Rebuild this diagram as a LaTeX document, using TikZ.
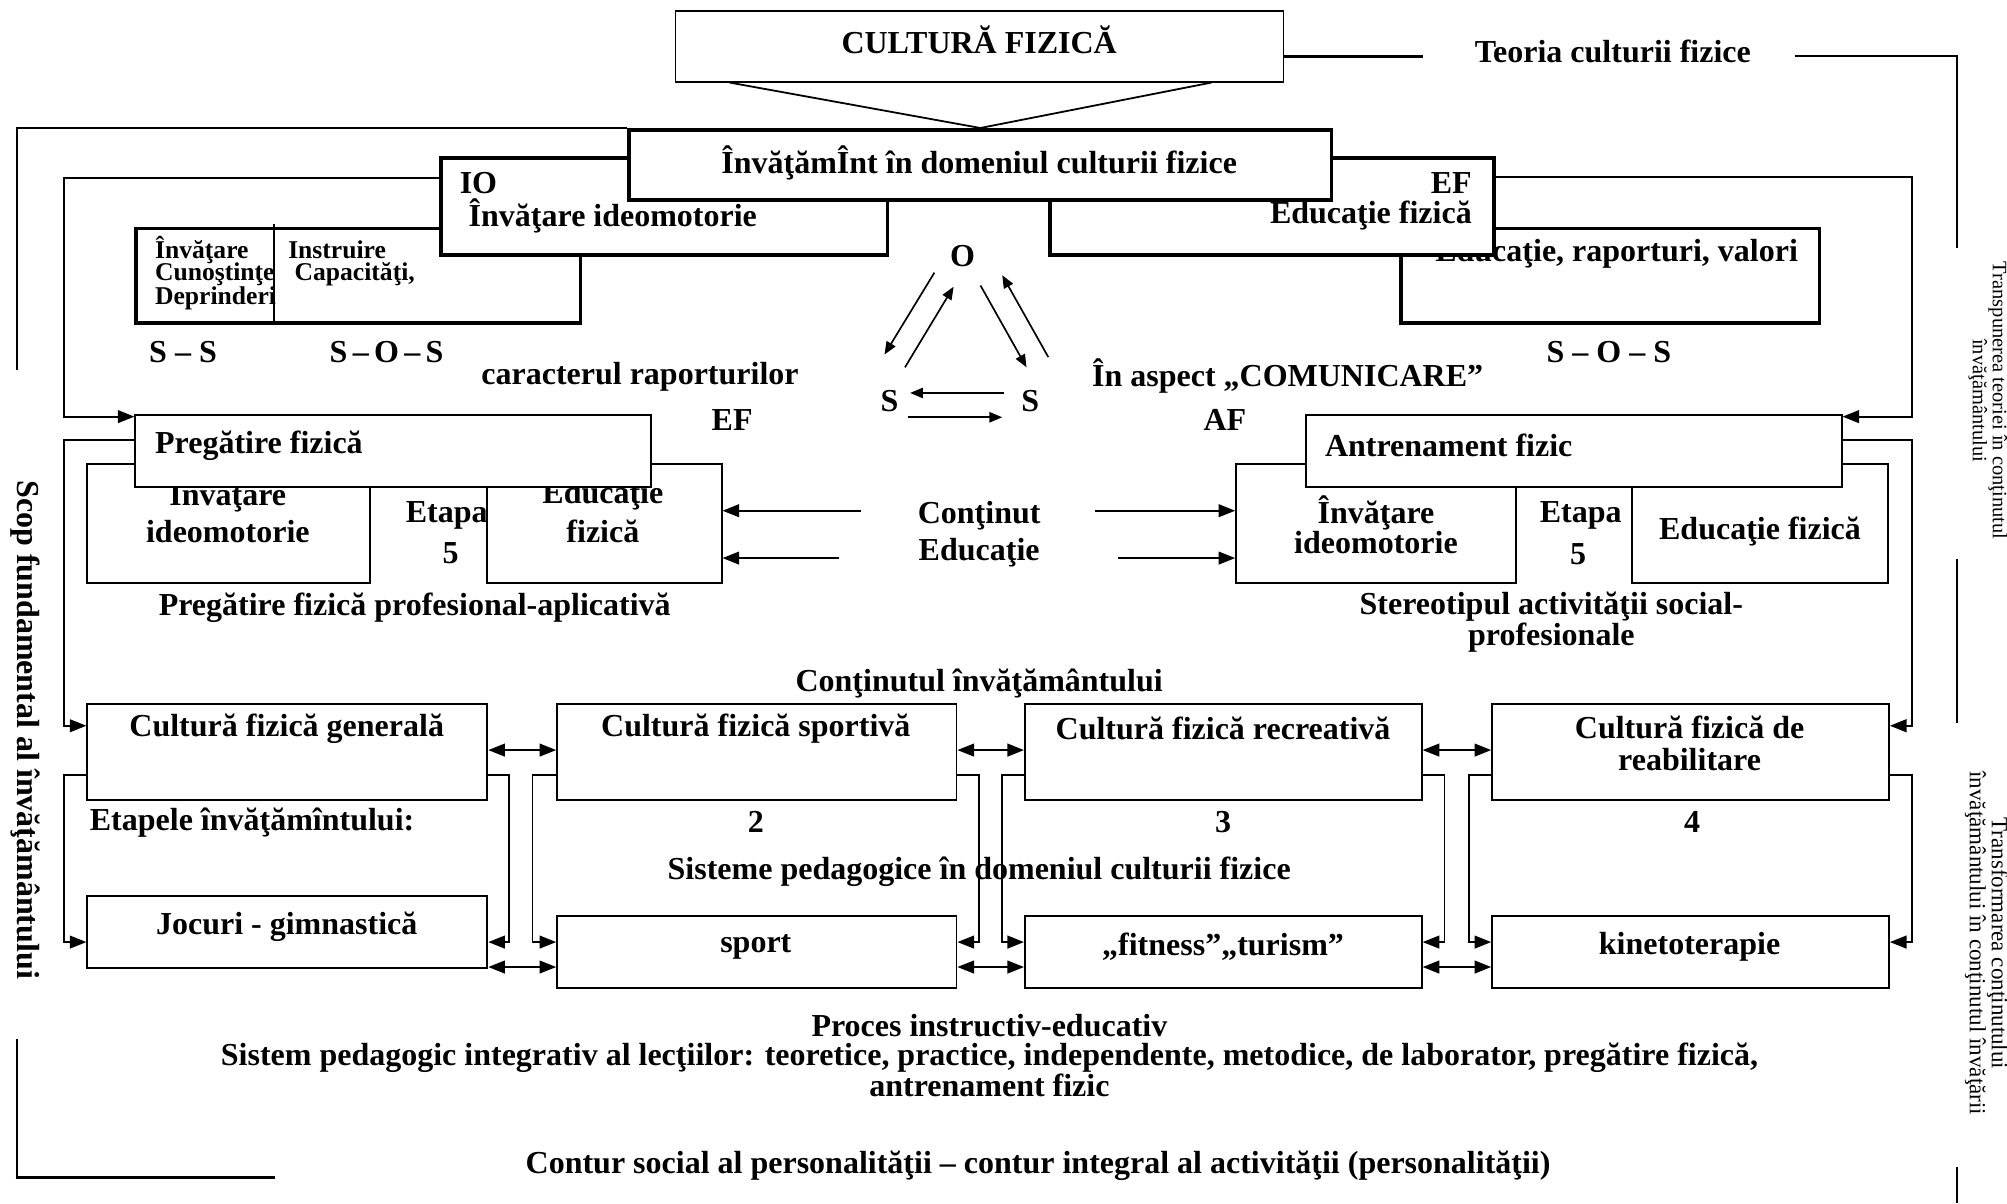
\documentclass[tikz,border=0pt]{standalone}
\usepackage{fontspec}
\setmainfont{Liberation Serif}
\usetikzlibrary{arrows.meta,calc}
\newcommand\mainf{\fontsize{25}{26}\selectfont\bfseries}
\newcommand\smallf{\fontsize{20}{19}\selectfont\bfseries}
\newcommand\sidef{\fontsize{16}{13}\selectfont}
\newcommand\sideff{\fontsize{18}{14}\selectfont}
\begin{document}
\begin{tikzpicture}[x=1pt,y=-1pt,
  every node/.style={inner sep=0pt, align=center, font=\mainf},
  box/.style={draw, line width=1.5pt, fill=white, anchor=north west},
  tbox/.style={box, line width=2.8pt},
  ln/.style={line width=1.4pt},
  >={Triangle[length=13pt,width=10pt]},
  arr/.style={ln, ->},
  darr/.style={ln, <->},
  tarr/.style={line width=1.3pt, -{Triangle[length=10pt,width=8pt]}},
]
\useasboundingbox (0,0) rectangle (1568,940);

% ---------- upper block ----------
\node[box, minimum width=475pt, minimum height=55pt] (cf) at (527,8) {};
\node (cft) at (765,31) {CULTURĂ FIZICĂ};
\node (teo) at (1260,40) {Teoria culturii fizice};
\coordinate (teoL) at (1112,44);
\coordinate (teoR) at (1402,44);
\coordinate (trA) at (1529,194);

% small box: knowledge / skills
\node[tbox, minimum width=347pt, minimum height=74pt] (sm) at (105,177) {};
\draw[line width=2pt] ($(sm.north west)+(109,-2)$) -- ($(sm.south west)+(109,-2)$);
\node[anchor=west, font=\smallf] (sm1) at (121,195) {Învăţare};
\node[anchor=west, font=\smallf] (sm2) at (121,214) {Cunoştinţe};
\node[anchor=west, font=\smallf] (sm3) at (121,233) {Deprinderi};
\node[anchor=west, font=\smallf] (sm4) at (225,195) {Instruire};
\node[anchor=west, font=\smallf] (sm5) at (230,214) {Capacităţi,};

% IO box
\node[tbox, minimum width=349pt, minimum height=76pt] (io) at (343,122) {};
\node[anchor=west] (iot) at (359,143) {IO};
\node[anchor=west] (iot2) at (366,169) {Învăţare ideomotorie};

% education / values box and EF box
\node[tbox, minimum width=327pt, minimum height=74pt] (erv) at (1093,177) {};
\node (ervt) at (1263,198) {Educaţie, raporturi, valori};
\node[tbox, minimum width=347pt, minimum height=76pt] (ef) at (819,122) {};
\node[anchor=east] (eft) at (1150,143) {EF};
\node[anchor=east] (eft2) at (1150,168) {Educaţie fizică};

% central teaching box
\node[tbox, minimum width=549pt, minimum height=55pt] (inv) at (490,100) {};
\node (invt) at (765,127) {ÎnvăţămÎnt în domeniul culturii fizice};

% relation labels
\node (ss1) at (143,275) {S – S};
\node (sos1) at (302,275) {S\,–\,O\,–\,S};
\node (sos2) at (1257,275) {S – O – S};
\node (car) at (500,294) {caracterul raporturilor};
\node (ef2) at (572,328) {EF};
\node (com) at (1006,294) {În aspect „COMUNICARE”};
\node (af2) at (957,328) {AF};

% subject-object triangle
\node (O) at (752,200) {O};
\node (S1) at (695,313) {S};
\node (S2) at (805,313) {S};
\coordinate (a1s) at (730,213); \coordinate (a1e) at (691,277);
\coordinate (a2s) at (707,287); \coordinate (a2e) at (745,224);
\coordinate (a3s) at (766,223); \coordinate (a3e) at (802,287);
\coordinate (a4s) at (819,279); \coordinate (a4e) at (783,215);
\coordinate (a5s) at (784,307); \coordinate (a5e) at (711,307);
\coordinate (a6s) at (709,326); \coordinate (a6e) at (783,326);

% ---------- middle block ----------
\node[box, minimum width=220.5pt, minimum height=93pt] (lii) at (67.5,362) {};
\node[box, minimum width=183pt, minimum height=93pt] (lef) at (380,362) {};
\node (lii1) at (178,387) {Învăţare};
\node (lii2) at (178,415) {ideomotorie};
\node (lef1) at (471,387) {Educaţie};
\node (lef2) at (471,415) {fizică};
\node[box, minimum width=403pt, minimum height=56.5pt] (pf) at (105,323.5) {};
\node[anchor=west] (pft) at (121,348) {Pregătire fizică};
\node (et1) at (349,403) {Etapa};
\node (et2) at (352,432) {5};
\node (pfpa) at (324,475) {Pregătire fizică profesional-aplicativă};

\node (con1) at (765,403) {Conţinut};
\node (con2) at (765,432) {Educaţie};
\coordinate (cl1) at (673,399);
\coordinate (cl2) at (655.5,436);
\coordinate (cr1) at (855.5,399);
\coordinate (cr2) at (873.5,436);

\node[box, minimum width=218.5pt, minimum height=93pt] (rii) at (965,362) {};
\node[box, minimum width=200pt, minimum height=93pt] (ref) at (1274,362) {};
\node (rii1) at (1075,401) {Învăţare};
\node (rii2) at (1075,424) {ideomotorie};
\node (ret) at (1375,415) {Educaţie fizică};
\node (rt1) at (1235,403) {Etapa};
\node (rt2) at (1233,433) {5};
\node[box, minimum width=418.5pt, minimum height=56.5pt] (af) at (1019.5,323.5) {};
\node[anchor=west] (aft) at (1035,348) {Antrenament fizic};
\node[font=\fontsize{25}{24}\selectfont\bfseries] (stp) at (1212,486) {Stereotipul activităţii social-\\profesionale};

\node (cont) at (765,534) {Conţinutul învăţământului};

% ---------- lower block ----------
\node[box, minimum width=312.5pt, minimum height=75pt] (cfg) at (67.5,549) {};
\node[box, minimum width=312pt, minimum height=75pt] (cfs) at (434.5,549) {};
\node[box, minimum width=310pt, minimum height=75pt] (cfc) at (800,549) {};
\node[box, minimum width=310pt, minimum height=75pt] (cfr) at (1165,549) {};
\node (cfgt) at (224,569) {Cultură fizică generală};
\node (cfst) at (590.5,569) {Cultură fizică sportivă};
\node (cfct) at (955.5,569) {Cultură fizică recreativă};
\node[font=\fontsize{25}{25}\selectfont\bfseries] (cfrt) at (1320,581) {Cultură fizică de\\reabilitare};

\node[anchor=west] (etp) at (70,643) {Etapele învăţămîntului:};
\node (n2) at (590.5,642) {2};
\node (n3) at (955.5,642) {3};
\node (n4) at (1322,642) {4};
\node (sis) at (765,681) {Sisteme pedagogice în domeniul culturii fizice};

\node[box, minimum width=312.5pt, minimum height=56.5pt] (joc) at (67.5,699) {};
\node[box, minimum width=312pt, minimum height=56pt] (sp) at (434.5,715) {};
\node[box, minimum width=310pt, minimum height=56pt] (fit) at (800,715) {};
\node[box, minimum width=310pt, minimum height=56pt] (kin) at (1165,715) {};
\node (joct) at (224,724) {Jocuri - gimnastică};
\node (spt) at (590.5,740) {sport};
\node (fitt) at (955.5,740) {„fitness”„turism”};
\node (kint) at (1320,740) {kinetoterapie};

\node (pr1) at (773,801) {Proces instructiv-educativ};
\node (pr2) at (773,826) {Sistem pedagogic integrativ al lecţiilor: teoretice, practice, independente, metodice, de laborator, pregătire fizică,};
\node (pr3) at (773,848) {antrenament fizic};
\node (ctr) at (811,911) {Contur social al personalităţii – contur integral al activităţii (personalităţii)};

% side captions
\node[rotate=-90] (scop) at (20,570) {Scop fundamental al învăţământului};
\node[rotate=-90, font=\sidef] (trp) at (1553,313) {Transpunerea teoriei în conţinutul\\învăţământului};
\node[rotate=-90, font=\sideff] (trf) at (1552,737) {Transformarea conţinutului\\învăţământului în conţinutul învăţării};

% ---------- connectors ----------
\draw[line width=2.8pt] ($(cf.north east)+(0,36)$) -- (teoL);
\draw[ln] (teoR) -| (trA);
\draw[ln] (1529,437) -- (1529,565);
\draw[ln] (1529,912) -- (1529,940);
\draw[ln] ($(cf.south west)+(43,0)$) -- (inv.north);
\draw[ln] ($(cf.south east)+(-57,0)$) -- (inv.north);

% outer left frame
\draw[ln] (inv.north west) -| (13,289);
\draw[ln] (13,812) -- (13,920);
\draw[line width=2.2pt] (12.3,920) -- (215,920);

% inner frames to preparation / training
\draw[arr] ($(io.north west)+(0,17)$) -| (50,325.5) -- ($(pf.north west)+(0,2)$);
\draw[arr] ($(pf.north west)+(0,20.5)$) -| (50,567) -- ($(cfg.north west)+(0,18)$);
\draw[arr] ($(ef.north east)+(0,16)$) -| (1494,325.5) -- ($(af.north east)+(0,2)$);
\draw[arr] ($(af.north east)+(0,20)$) -| (1494,567) -- ($(cfr.north east)+(0,18)$);

% content arrows
\draw[arr] (cl1) -- (lef.east |- cl1);
\draw[arr] (cl2) -- (lef.east |- cl2);
\draw[arr] (cr1) -- (rii.west |- cr1);
\draw[arr] (cr2) -- (rii.west |- cr2);

% triangle arrows
\draw[tarr] (a1s) -- (a1e);
\draw[tarr] (a2s) -- (a2e);
\draw[tarr] (a3s) -- (a3e);
\draw[tarr] (a4s) -- (a4e);
\draw[tarr] (a5s) -- (a5e);
\draw[tarr] (a6s) -- (a6e);

% row links
\draw[darr] ($(cfg.north east)+(0,37)$) -- ($(cfs.north west)+(0,37)$);
\draw[darr] ($(cfs.north east)+(0,37)$) -- ($(cfc.north west)+(0,37)$);
\draw[darr] ($(cfc.north east)+(0,37)$) -- ($(cfr.north west)+(0,37)$);
\coordinate (spL) at ($(sp.north west)+(0,40.5)$);
\draw[darr] (joc.east |- spL) -- (spL);
\draw[darr] ($(sp.north east)+(0,40.5)$) -- ($(fit.north west)+(0,40.5)$);
\draw[darr] ($(fit.north east)+(0,40.5)$) -- ($(kin.north west)+(0,40.5)$);

% culture forms to systems
\draw[arr] ($(cfg.north west)+(0,56.5)$) -| (50,736) -- ($(joc.north west)+(0,37)$);
\draw[arr] ($(cfg.north east)+(0,56.5)$) -| (397.5,736) -- ($(joc.north east)+(0,37)$);
\draw[arr] ($(cfs.north west)+(0,56.5)$) -| (416,736) -- ($(sp.north west)+(0,21)$);
\draw[arr] ($(cfs.north east)+(0,56.5)$) -| (765,736) -- ($(sp.north east)+(0,21)$);
\draw[arr] ($(cfc.north west)+(0,56.5)$) -| (783,736) -- ($(fit.north west)+(0,21)$);
\draw[arr] ($(cfc.north east)+(0,56.5)$) -| (1128.5,736) -- ($(fit.north east)+(0,21)$);
\draw[arr] ($(cfr.north west)+(0,56.5)$) -| (1147.5,736) -- ($(kin.north west)+(0,21)$);
\draw[arr] ($(cfr.north east)+(0,56.5)$) -| (1494,736) -- ($(kin.north east)+(0,21)$);
\end{tikzpicture}
\end{document}
